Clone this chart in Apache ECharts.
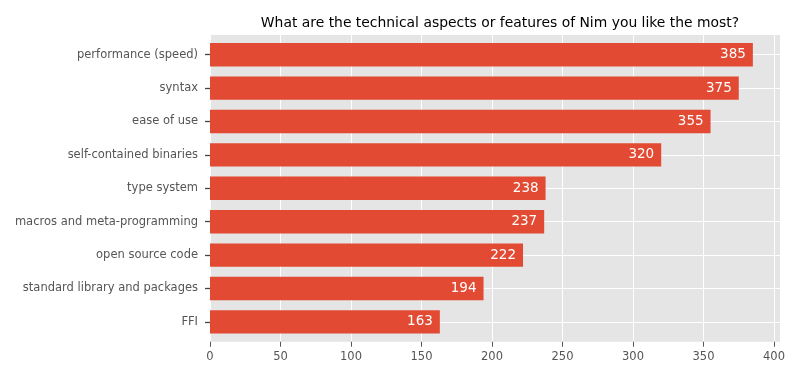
<!DOCTYPE html>
<html><head><meta charset="utf-8">
<script src="https://cdn.jsdelivr.net/npm/echarts@6/dist/echarts.min.js"></script>
<style>html,body{margin:0;padding:0;background:#fff}#c{width:800px;height:380px}</style>
</head><body><div id="c"></div>
<script>
const categories = ["performance (speed)","syntax","ease of use","self-contained binaries","type system","macros and meta-programming","open source code","standard library and packages","FFI"];
const values = [385,375,355,320,238,237,222,194,163];
const xTicks = [0,50,100,150,200,250,300,350,400];
const chart = echarts.init(document.getElementById('c'), null, {renderer:'canvas'});
const XMAX = 404.25;
chart.setOption({
  animation:false,
  backgroundColor:'#ffffff',
  textStyle:{fontFamily:'DejaVu Sans'},
  title:{text:'What are the technical aspects or features of Nim you like the most?',left:495,top:11,textAlign:'center',
    textStyle:{fontFamily:'DejaVu Sans',fontSize:13.9,fontWeight:'normal',color:'#000'}},
  grid:[
    {left:210,right:20,top:35,height:306.7,show:true,backgroundColor:'#e5e5e5',borderWidth:0},
    {left:210,right:20,top:38,height:300.6,show:false}
  ],
  xAxis:[
    {gridIndex:0,type:'value',min:0,max:XMAX,interval:50,
      axisLine:{show:false},
      axisTick:{show:true,length:5,lineStyle:{color:'#555',width:1}},
      axisLabel:{color:'#555',fontSize:11.5,margin:9,showMaxLabel:false,fontFamily:'DejaVu Sans',
        formatter:v=>xTicks.includes(v)?String(v):''},
      splitLine:{show:true,showMaxLine:false,lineStyle:{color:'#fff',width:1}}},
    {gridIndex:1,type:'value',min:0,max:XMAX,show:false}
  ],
  yAxis:[
    {gridIndex:0,type:'value',min:0,max:1,show:false},
    {gridIndex:1,type:'category',data:categories,inverse:true,z:5,
      axisLine:{show:false},
      axisTick:{show:true,alignWithLabel:true,length:5,lineStyle:{color:'#444',width:1.3}},
      axisLabel:{color:'#555',fontSize:11.5,margin:12,fontFamily:'DejaVu Sans',verticalAlign:'middle'},
      splitLine:{show:false}}
  ],
  series:[{type:'bar',xAxisIndex:1,yAxisIndex:1,data:values,barCategoryGap:'30%',
    itemStyle:{color:'#E24A33'},
    label:{show:true,position:'insideRight',distance:7,color:'#fff',fontSize:13.5,fontFamily:'DejaVu Sans'},
    markLine:{silent:true,symbol:'none',label:{show:false},z:1,
      lineStyle:{color:'#fff',type:'solid',width:1},
      data:categories.map(c=>({yAxis:c}))},
    z:2}]
});
</script></body></html>
